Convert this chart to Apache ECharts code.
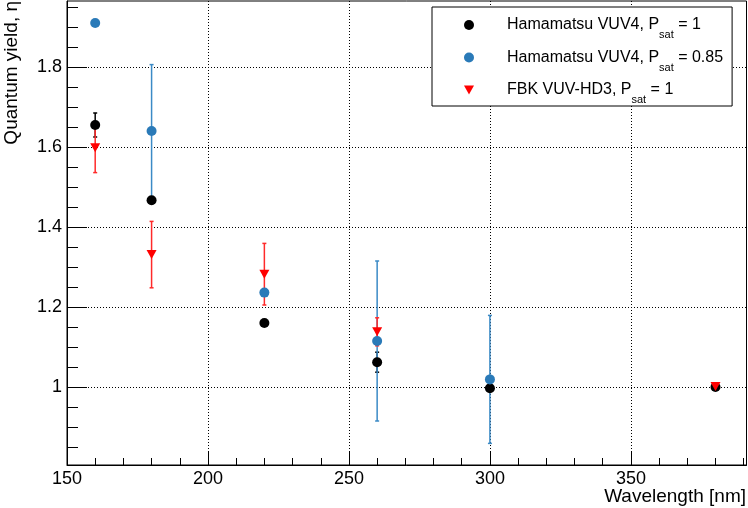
<!DOCTYPE html>
<html>
<head>
<meta charset="utf-8">
<script src="https://cdn.jsdelivr.net/npm/echarts@6/dist/echarts.min.js"></script>
<style>
    html, body { margin: 0; padding: 0; background: #fff; }
    #chart { width: 748px; height: 508px; }
</style>
</head>
<body>
<div id="chart"></div>
<script>
    // Hamamatsu VUV4, Psat = 1
    const wlHamaP1 = [160, 180, 220, 260, 300, 380];
    const qyHamaP1 = [1.656, 1.468, 1.161, 1.063, 0.998, 1.001];
    const errHamaP1 = [0.030, 0.008, 0.005, 0.025, 0.005, 0.003];

    // Hamamatsu VUV4, Psat = 0.85
    const wlHamaP085 = [160, 180, 220, 260, 300];
    const qyHamaP085 = [1.911, 1.641, 1.237, 1.116, 1.020];
    const errHamaP085 = [0, 0.166, 0, 0.200, 0.160];

    // FBK VUV-HD3, Psat = 1
    const wlFbk = [160, 180, 220, 260, 380];
    const qyFbk = [1.599, 1.332, 1.283, 1.139, 1.002];
    const errFbk = [0.062, 0.083, 0.077, 0.035, 0.004];

    // axis ticks
    const xMajorTicks = [150, 200, 250, 300, 350];
    const xMinorTicks = [160, 170, 180, 190, 210, 220, 230, 240, 260, 270, 280, 290,
        310, 320, 330, 340, 360, 370, 380, 390];
    const yMajorTicks = [1, 1.2, 1.4, 1.6, 1.8];
    const yMinorTicks = [0.85, 0.9, 0.95, 1.05, 1.1, 1.15, 1.25, 1.3, 1.35, 1.45, 1.5, 1.55,
        1.65, 1.7, 1.75, 1.85, 1.9, 1.95];

    const xMin = 150, xMax = 391;
    const yMin = 0.806, yMax = 1.966;

    const xTitle = 'Wavelength [nm]';
    const yTitle = 'Quantum yield, \u03b7';

    const names = ['hamaP1', 'hamaP085', 'fbk'];
    const legendText = {
        hamaP1: 'Hamamatsu VUV4, P{s|sat} = 1',
        hamaP085: 'Hamamatsu VUV4, P{s|sat} = 0.85',
        fbk: 'FBK VUV-HD3, P{s|sat} = 1'
    };

    const FONT = 'Liberation Sans';

    function points(xs, ys) {
        return xs.map((x, i) => [x, ys[i]]);
    }
    function bars(xs, ys, errs) {
        return xs.map((x, i) => [x, ys[i], ys[i] - errs[i], ys[i] + errs[i]]);
    }

    // vertical error bar with small caps
    function errorBar(color) {
        return function (params, api) {
            const x = api.value(0);
            const top = api.coord([x, api.value(3)]);
            const bot = api.coord([x, api.value(2)]);
            const cap = 2;
            const style = { stroke: color, lineWidth: 1.5 };
            return {
                type: 'group',
                children: [
                    { type: 'line', shape: { x1: top[0], y1: top[1], x2: bot[0], y2: bot[1] }, style: style },
                    { type: 'line', shape: { x1: top[0] - cap, y1: top[1], x2: top[0] + cap, y2: top[1] }, style: style },
                    { type: 'line', shape: { x1: bot[0] - cap, y1: bot[1], x2: bot[0] + cap, y2: bot[1] }, style: style }
                ]
            };
        };
    }

    const chart = echarts.init(document.getElementById('chart'));

    const option = {
        animation: false,
        backgroundColor: '#fff',
        grid: {
            left: 67, right: 1.5, top: 1, bottom: 43,
            containLabel: false,
            outerBoundsMode: 'none',
            show: true, borderColor: '#000', borderWidth: 1, backgroundColor: 'transparent'
        },
        // axis titles, ROOT style: right / top aligned
        graphic: [{
            type: 'text', x: 746, y: 487,
            style: { text: xTitle, fontFamily: FONT, fontSize: 19, fill: '#000', align: 'right', verticalAlign: 'top' }
        }, {
            type: 'text', x: 12, y: 1, rotation: Math.PI / 2,
            style: { text: yTitle, fontFamily: FONT, fontSize: 19, fill: '#000', align: 'right', verticalAlign: 'middle' }
        }],
        legend: {
            data: names,
            left: 432, top: 7,
            orient: 'vertical',
            padding: [2.5, 9, 0.5, 32],
            itemGap: 1.5,
            itemWidth: 10, itemHeight: 10,
            backgroundColor: '#fff',
            borderColor: '#000', borderWidth: 1,
            formatter: name => legendText[name],
            textStyle: {
                fontFamily: FONT, fontSize: 16, color: '#000',
                lineHeight: 20,
                padding: [0, 0, 0, 28],
                rich: {
                    s: { fontFamily: FONT, fontSize: 11, color: '#000', lineHeight: 11, padding: [20, 0, 0, 0] }
                }
            }
        },
        xAxis: [{
            type: 'value', min: xMin, max: xMax,
            axisLine: { show: true, lineStyle: { color: '#000', width: 1 } },
            axisTick: { inside: true, length: 14, customValues: xMajorTicks, lineStyle: { color: '#000' } },
            axisLabel: { customValues: xMajorTicks, margin: 5, fontFamily: FONT, fontSize: 18, color: '#000' },
            splitLine: { show: true, lineStyle: { color: '#000', type: [1, 2], width: 1 } }
        }, {
            type: 'value', min: xMin, max: xMax, position: 'bottom', offset: 0,
            axisLine: { show: false },
            axisTick: { inside: true, length: 7, customValues: xMinorTicks, lineStyle: { color: '#000' } },
            axisLabel: { show: false },
            splitLine: { show: false }
        }],
        yAxis: [{
            type: 'value', min: yMin, max: yMax, position: 'left',
            axisLine: { show: true, lineStyle: { color: '#000', width: 1 } },
            axisTick: { inside: true, length: 20, customValues: yMajorTicks, lineStyle: { color: '#000' } },
            axisLabel: { customValues: yMajorTicks, margin: 5, fontFamily: FONT, fontSize: 18, color: '#000' },
            splitLine: { show: true, lineStyle: { color: '#000', type: [1, 2], width: 1 } }
        }, {
            type: 'value', min: yMin, max: yMax, position: 'left', offset: 0,
            axisLine: { show: false },
            axisTick: { inside: true, length: 11, customValues: yMinorTicks, lineStyle: { color: '#000' } },
            axisLabel: { show: false },
            splitLine: { show: false }
        }],
        series: [
            {
                name: 'errHamaP1', type: 'custom', renderItem: errorBar('#000'),
                data: bars(wlHamaP1, qyHamaP1, errHamaP1), z: 2
            },
            {
                name: 'hamaP1', type: 'scatter', symbol: 'circle', symbolSize: 10,
                itemStyle: { color: '#000', opacity: 1 },
                data: points(wlHamaP1, qyHamaP1), z: 2
            },
            {
                name: 'errHamaP085', type: 'custom', renderItem: errorBar('#3b8ac6'),
                data: bars(wlHamaP085, qyHamaP085, errHamaP085), z: 2
            },
            {
                name: 'hamaP085', type: 'scatter', symbol: 'circle', symbolSize: 10,
                itemStyle: { color: '#2a7ab8', opacity: 1 },
                data: points(wlHamaP085, qyHamaP085), z: 2
            },
            {
                name: 'errFbk', type: 'custom', renderItem: errorBar('#ff2a2a'),
                data: bars(wlFbk, qyFbk, errFbk), z: 2
            },
            {
                name: 'fbk', type: 'scatter', symbol: 'path://M0,0L10,0L5,9Z', symbolSize: [10, 9],
                itemStyle: { color: '#ff0000', opacity: 1 },
                data: points(wlFbk, qyFbk), z: 2
            }
        ]
    };

    chart.setOption(option);
</script>
</body>
</html>
